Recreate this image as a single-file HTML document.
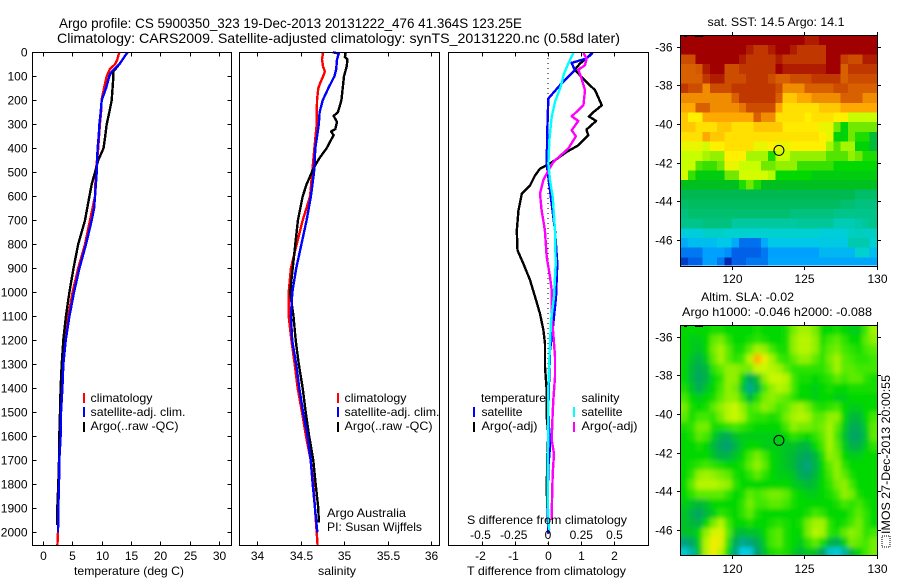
<!DOCTYPE html>
<html>
<head>
<meta charset="utf-8">
<title>Argo profile</title>
<style>
html,body{margin:0;padding:0;background:#fff;width:900px;height:580px;overflow:hidden}
svg{display:block}
text{font-family:"Liberation Sans",sans-serif;font-size:12px;fill:#000}
.t{font-size:13.6px}
</style>
</head>
<body>
<svg id="fig" xmlns="http://www.w3.org/2000/svg" width="900" height="580" viewBox="0 0 900 580">
<rect x="0" y="0" width="900" height="580" fill="#fff"/>
<text class="t" x="59" y="28" textLength="463" lengthAdjust="spacingAndGlyphs">Argo profile: CS 5900350_323 19-Dec-2013 20131222_476 41.364S 123.25E</text>
<text class="t" x="57" y="43" textLength="563" lengthAdjust="spacingAndGlyphs">Climatology: CARS2009. Satellite-adjusted climatology: synTS_20131220.nc (0.58d later)</text>

<g id="layer-maps"></g>
<g id="layer-lines"></g>
<g id="layer-axes"></g>

<text x="74" y="575" textLength="110" lengthAdjust="spacingAndGlyphs">temperature (deg C)</text>
<text x="318" y="575" textLength="38" lengthAdjust="spacingAndGlyphs">salinity</text>
<text x="467" y="575" textLength="159" lengthAdjust="spacingAndGlyphs">T difference from climatology</text>
<text x="467" y="524" textLength="160" lengthAdjust="spacingAndGlyphs">S difference from climatology</text>

<g>
<rect x="83" y="393" width="2" height="10" fill="#f00"/>
<rect x="83" y="407" width="2" height="10" fill="#00f"/>
<rect x="83" y="422" width="2" height="10" fill="#000"/>
<text x="90.5" y="402" textLength="62" lengthAdjust="spacingAndGlyphs">climatology</text>
<text x="90.5" y="416" textLength="95" lengthAdjust="spacingAndGlyphs">satellite-adj. clim.</text>
<text x="90.5" y="430" textLength="88" lengthAdjust="spacingAndGlyphs">Argo(..raw -QC)</text>
</g>
<g>
<rect x="337" y="393" width="2" height="10" fill="#f00"/>
<rect x="337" y="407" width="2" height="10" fill="#00f"/>
<rect x="337" y="422" width="2" height="10" fill="#000"/>
<text x="344.5" y="402" textLength="62" lengthAdjust="spacingAndGlyphs">climatology</text>
<text x="344.5" y="416" textLength="95" lengthAdjust="spacingAndGlyphs">satellite-adj. clim.</text>
<text x="344.5" y="430" textLength="88" lengthAdjust="spacingAndGlyphs">Argo(..raw -QC)</text>
</g>
<text x="327" y="517" textLength="79" lengthAdjust="spacingAndGlyphs">Argo Australia</text>
<text x="327" y="531" textLength="95" lengthAdjust="spacingAndGlyphs">PI: Susan Wijffels</text>
<g>
<text x="481" y="402" textLength="65" lengthAdjust="spacingAndGlyphs">temperature</text>
<text x="581.5" y="402" textLength="38" lengthAdjust="spacingAndGlyphs">salinity</text>
<rect x="473" y="407" width="2" height="10" fill="#00f"/>
<rect x="473" y="422" width="2" height="10" fill="#000"/>
<rect x="573" y="407" width="2" height="10" fill="#0ff"/>
<rect x="573" y="422" width="2" height="10" fill="#f0f"/>
<text x="481.5" y="416" textLength="41" lengthAdjust="spacingAndGlyphs">satellite</text>
<text x="481.5" y="430" textLength="56" lengthAdjust="spacingAndGlyphs">Argo(-adj)</text>
<text x="581.5" y="416" textLength="41" lengthAdjust="spacingAndGlyphs">satellite</text>
<text x="581.5" y="430" textLength="56" lengthAdjust="spacingAndGlyphs">Argo(-adj)</text>
</g>

<text x="707.5" y="26" textLength="137" lengthAdjust="spacingAndGlyphs">sat. SST: 14.5  Argo: 14.1</text>
<text x="701" y="301" textLength="93" lengthAdjust="spacingAndGlyphs">Altim. SLA: -0.02</text>
<text x="682" y="316" textLength="190" lengthAdjust="spacingAndGlyphs">Argo h1000: -0.046  h2000: -0.088</text>

<rect x="882" y="536" width="8" height="11" fill="none" stroke="#000" stroke-width="1" stroke-dasharray="1 1"/>
<text transform="translate(890,534) rotate(-90)" x="0" y="0" textLength="159" lengthAdjust="spacingAndGlyphs">IMOS 27-Dec-2013 20:00:55</text>
</svg>

<script>
// ---- profile data ----
const tempClimDepth = [0,30,50,70,100,150,200,230,300,400,500,600,700,800,900,1000,1100,1200,1300,1400,1500,1600,1700,1800,1900,2000,2055];
const tempClim = [13,12.66,12.27,11.4,10.85,10.4,9.97,9.97,9.7,9.4,9.0,8.86,8.0,7.15,6.0,5.05,4.3,3.7,3.35,3.07,2.9,2.8,2.75,2.68,2.6,2.56,2.45];
const tempSatDepth = [0,50,80,100,150,200,250,300,350,400,500,600,650,700,800,900,1000,1100,1200,1300,1400,1500,1600,1700,1800,1900,2000];
const tempSat = [14.4,13.0,11.7,11.3,10.73,10.0,9.83,9.6,9.49,9.3,9.15,8.86,8.7,8.3,7.33,6.2,5.28,4.5,3.87,3.46,3.3,3.07,3.0,2.78,2.72,2.6,2.56];
const tempArgoDepth = [0,50,80,100,200,250,300,350,400,450,500,550,600,700,800,900,1000,1100,1200,1300,1400,1500,1600,1700,1800,1900,1970];
const tempArgo = [14.4,13.0,12.0,12.0,11.7,11.3,10.85,10.6,10.3,9.4,8.86,8.3,7.9,7.15,6.0,5.2,4.5,3.9,3.46,3.18,3.0,2.9,2.78,2.73,2.6,2.44,2.44];

const salClimDepth = [0,30,60,80,100,130,150,200,300,400,500,600,700,800,900,1000,1100,1200,1300,1400,1500,1600,1700,1800,1900,2000,2055];
const salClim = [34.76,34.747,34.76,34.78,34.76,34.724,34.705,34.69,34.686,34.66,34.635,34.61,34.525,34.456,34.39,34.364,34.364,34.395,34.433,34.468,34.517,34.563,34.617,34.647,34.667,34.686,34.697];
const salSatDepth = [0,5,30,70,100,150,200,250,300,400,500,600,700,800,900,1000,1100,1200,1300,1400,1500,1600,1700,1800,1900,2000];
const salSat = [34.87,34.94,34.92,34.91,34.89,34.82,34.755,34.72,34.71,34.67,34.655,34.62,34.57,34.51,34.45,34.406,34.39,34.405,34.45,34.486,34.53,34.58,34.617,34.64,34.667,34.693];
const salArgoDepth = [0,20,30,60,100,150,200,250,265,290,320,330,345,400,440,470,500,550,600,700,800,900,1000,1100,1200,1300,1400,1500,1600,1700,1800,1900,1960];
const salArgo = [35.02,35.01,35.04,35.03,35.0,34.985,34.97,34.93,34.88,34.92,34.9,34.85,34.88,34.8,34.72,34.67,34.63,34.57,34.525,34.47,34.44,34.41,34.38,34.42,34.445,34.48,34.525,34.56,34.6,34.647,34.675,34.705,34.71];

const dTArgoDepth = [3,26,47,72,96,124,158,221,249,267,286,322,346,388,415,450,471,485,513,554,589,658,742,825,881,950,1019,1089,1158,1214,1311,1408,1519,1589,1686,1825,1922,2005];
const dTArgo = [1.32,1.16,.96,.81,.96,1.16,1.42,1.62,1.37,1.23,1.45,1.16,1.21,.91,.56,.21,-.04,-.24,-.39,-.54,-.79,-.89,-.94,-.92,-.74,-.54,-.39,-.24,-.14,-.09,-.09,-.04,-.04,.01,-.02,-.04,-.01,.01];
const dTSatDepth = [3,26,44,75,137,193,325,464,519,631,742,881,1019,1102,1158,1241,1380,1491,1589,1644,1727,1866,2005];
const dTSat = [1.35,1.16,.71,.81,.36,.01,-.02,-.04,.01,.11,.21,.28,.24,.18,.14,.06,.03,.01,.04,.06,.01,-.01,.01];
const dSSatDepth = [3,47,89,144,207,269,367,464,533,603,742,881,1019,1116,1214,1311,1394,1589,1727,1866,1991];
const dSSat = [.19,.153,.12,.095,.053,.028,.01,.003,.015,.035,.053,.058,.045,.023,.015,.008,.003,.003,-.003,-.003,.008];
const dSArgoDepth = [3,26,54,72,110,158,221,267,286,325,350,401,457,492,533,589,658,742,853,936,992,1116,1172,1269,1352,1450,1533,1616,1672,1755,1866,1949];
const dSArgo = [.266,.29,.278,.228,.253,.278,.266,.178,.228,.178,.21,.153,.04,.003,-.035,-.06,-.048,-.023,-.01,.015,.028,.03,.04,.053,.053,.04,.033,.028,.045,.035,.03,.028];

// ---- tick labels ----
const depthTicks = [0,100,200,300,400,500,600,700,800,900,1000,1100,1200,1300,1400,1500,1600,1700,1800,1900,2000];
const tempTicks = [0,5,10,15,20,25,30];
const salTicks = [34,34.5,35,35.5,36];
const dTTicks = [-2,-1,0,1,2];
const dSTicks = [-0.5,-0.25,0,0.25,0.5];
const latTicks = [-36,-38,-40,-42,-44,-46];
const lonTicks = [120,125,130];

// ---- map data: 0.5 degree cells, rows north to south ----
const argoLon = 123.25;
const argoLat = -41.364;
const sstGrid = [
[20,20,20,20,20,20,20,20,20,20,20,20,20,20,20,20,20,19.5,19.5,20,20,20,20,20,20,20,20],
[20,20,20,20,20,20,20,20,20,19.5,19,19,19.5,20,20,19.5,19,19,19,19,20,20,20,20,20,20,20],
[18.5,18.5,20,20,20,20,20,20,19.5,19,19,19,19,19.5,19,19,19,19,19,19,20,20,18.8,18.5,18.5,19.5,19.5],
[18,18,18.2,19.5,20,20,18.5,18.5,19,19,19,19,19,20,19.5,19.5,19.5,19.5,19.5,19.5,20,20,18,19,19,19,19],
[18,18,18,19,19.5,19.5,18.5,18.5,18.5,19,19,19,18.5,18,18,18.5,18.5,18.5,19,19,19,19,18,18.5,18.5,18.5,18.5],
[19,18.5,18.5,17,18.5,18.5,18.5,19,19,19,19,19,19,18.5,17,17,17,18,18,18,18,18.5,18.5,18,18,18,18],
[17,17,17,17,17,17,17,18,19,19,19,19,19,18,16,16,16.5,16.5,17,17,17,17,18,18,18,17,17],
[16.5,16.5,18,18,17,17,17,17,17.5,18.5,18.5,18.5,18.5,16.5,15.5,15.5,15.5,15.5,15.5,16,16,16,16.5,16.5,16.5,16.5,16.5],
[16,15,15,16.5,16.5,16.5,16.5,16.5,16.5,16.5,18,17,17,15.5,15.5,15.5,15.5,15,15.5,15.5,15.5,15,15,14.5,14.5,14.5,14.5],
[16,16,15.5,15.5,15.5,16,16,15.5,15.5,15.5,16,16,16,16,15.2,15.2,15.2,15.2,15.2,14.8,14.8,14,13.5,14,14,14,14],
[15.5,15.5,15.5,16.5,16,16,15.5,15.5,15.5,15.5,15.5,15.5,15.5,15.5,15.4,15.4,15.4,15.4,15.4,15,14.8,13.5,13.5,14,13.7,13.7,13],
[14.8,14.8,14.8,14.6,15,15,15.5,15.5,15.5,15.5,14.8,14.8,15,14.8,14.8,15,15,15,15,15,14.3,13.9,14.3,14.3,13.5,13.5,13],
[14.5,14.5,14.5,14.3,14.2,14.2,15,15,15,14.3,14.3,14.3,13.7,14.5,14.5,14.2,14.2,14.2,14.2,14.2,13.9,13.9,13.9,14.2,14,13.7,13.7],
[14.5,14.5,13.9,13.8,13.8,14,14.8,14.8,14.5,14.5,14.5,14,14,14.2,14.2,14.2,13.8,13.8,13.8,13.8,13.8,13.6,13.6,13.6,13.6,13.6,13.6],
[14.6,13.8,13.4,13.4,13.4,13.4,14,14,14.6,14.6,14.6,14.6,14.4,13.6,13.6,13.6,13.6,13.6,13.4,13.4,13.4,13.4,13.4,13.4,13.4,13.4,13.4],
[13.2,13.2,13.2,13.2,13.2,13.2,13.2,13.2,13.7,14,13.7,13.2,13.2,13.2,13.2,13.2,13.2,13.2,13.2,13.2,13.2,13.2,13.2,13.2,13.2,13.2,13.2],
[12.8,12.8,12.8,12.8,12.8,12.8,12.8,12.8,12.8,12.8,12.8,12.8,12.8,12.8,12.8,12.8,12.8,12.8,12.8,12.8,12.8,12.8,12.8,12.8,12.5,12.5,12.5],
[12.5,12.6,12.6,12.6,12.6,12.6,12.6,12.6,12.6,12.6,12.6,12.6,12.6,12.6,12.6,12.6,12.6,12.6,12.6,12.6,12.6,12.6,12.4,12.4,12.2,12.2,12.2],
[12.2,12.4,12.4,12.4,12.4,12.4,12.4,12.4,12.4,12.4,12.4,12.4,12.4,12.4,12.4,12.2,12.2,12.2,12.2,12.2,12.2,12,12,12,12,12,12],
[12,12,12,12.2,12.2,12.2,12.2,11.7,11.7,11.7,11.7,11.7,11.7,11.7,11.7,11.7,11.8,11.8,11.8,11.8,11.8,11.4,11.4,11.4,11.6,11.8,12],
[10.8,10.8,10.8,11.1,11.1,11.1,11,11,11,11,11,11,11,11,11,11,11,11,11,10.8,10.8,10.8,10.9,11.2,11.3,11.2,11.2],
[10,10.3,10.3,10.3,10.3,10.5,10.5,10,9.2,9.2,9.2,10,10.5,10.5,10.5,10.5,10.5,10.5,10.5,10.6,10.6,10.6,10.6,11.5,11.5,11.5,11],
[9.3,9.3,9.3,9.8,9.8,9.8,9.6,9,9,9,9,9.3,9.8,9.8,9.8,9.8,9.8,9.8,9.8,10.2,10.2,10.2,10.2,10.2,11,11,10.3],
[8.7,9,9,9.8,9.8,9.3,8.5,9,9,9.3,9.3,9.3,9.9,9.9,9.9,9.9,9.9,9.9,9.9,9.9,9.9,9.9,9.9,9.9,9.9,9.9,9.9]
];
const slaGrid = [
[-2,-2,-2,-2,0,0,-2,-2,-2,-2,0,-2,-2,-2,0,8,12,12,8,-2,-2,0,-2,-4,-4,4,12],
[-2,-4,-4,-2,6,8,2,-2,-2,0,2,0,-2,-2,0,10,14,14,10,0,4,6,2,-2,-2,6,10],
[-2,-4,-6,-2,8,12,6,0,0,6,12,10,4,0,0,10,14,14,10,2,6,8,4,2,0,4,6],
[-2,-6,-10,-4,6,12,6,2,4,14,34,22,12,4,2,6,10,10,6,2,8,12,6,4,2,2,4],
[-2,-8,-12,-8,2,6,10,10,8,8,16,16,14,12,6,2,2,2,2,2,6,12,6,6,4,4,4],
[-2,-8,-14,-10,-2,2,10,10,-2,-14,-6,10,16,16,14,4,0,0,-2,0,2,6,4,6,6,2,0],
[0,-6,-12,-6,-2,4,10,8,-6,-20,-10,4,10,14,12,4,-2,-2,-4,-2,0,-2,-2,0,0,0,0],
[4,-2,-4,-2,0,6,10,10,2,-8,0,8,10,8,6,2,-2,-2,-4,-2,-2,-4,-4,-2,-2,-2,-2],
[8,0,-2,0,6,10,14,16,10,4,6,10,8,4,6,10,12,8,2,0,2,4,-2,-4,-4,-2,-2],
[6,0,4,4,2,8,14,16,12,4,2,2,0,2,8,12,14,12,6,6,10,10,-2,-8,-8,-2,4],
[0,2,8,8,0,0,2,4,2,0,-2,-2,-2,-2,4,10,8,8,6,8,12,6,-4,-12,-12,-4,6],
[-2,0,6,4,-4,-10,-12,-6,-4,-4,-4,-4,-4,-4,-2,2,0,-2,2,6,12,4,-6,-14,-14,-6,6],
[-2,-2,0,-2,-8,-14,-16,-10,-4,-2,-2,-4,-4,-4,-6,-6,-8,-8,-2,4,12,6,-4,-10,-10,-4,2],
[-2,-2,-2,-2,-6,-10,-10,-6,-2,4,8,4,-2,-4,-6,-8,-12,-14,-8,0,10,8,-2,-4,-4,-2,-2],
[-2,0,2,4,2,0,-2,-2,0,6,10,6,-2,-4,-6,-8,-14,-18,-10,-2,6,10,2,-2,-2,-2,-2],
[-2,2,10,12,10,8,6,0,-2,2,6,2,-2,-4,-4,-6,-12,-14,-8,-2,4,10,6,0,-2,-2,-2],
[-2,6,14,14,14,12,10,2,-2,-2,-2,-2,-2,-2,-2,-4,-6,-8,-6,-2,2,8,10,4,-2,-2,-2],
[-2,2,6,6,6,6,2,-2,0,6,4,6,8,8,6,0,-2,-4,-4,-2,0,4,10,8,0,-2,-2],
[-4,-6,-8,-6,-2,-2,-2,-2,2,8,4,4,6,6,4,0,-2,-2,-2,-2,-2,0,4,2,4,0,-2],
[-6,-10,-14,-8,-4,2,0,-2,2,6,0,-2,-2,-2,-2,-2,-2,0,4,2,-2,-2,-2,2,6,2,-2],
[-6,-8,-10,-2,8,14,4,-2,-2,0,-2,-2,0,2,0,-2,0,8,12,12,2,-2,0,4,8,2,-2],
[-6,-6,-2,10,18,20,6,-6,-8,-6,-6,-2,4,6,0,-2,-2,8,14,12,2,0,6,10,8,2,4],
[-18,-14,-4,14,24,20,2,-12,-20,-18,-12,-4,4,6,0,-2,-4,2,6,0,-8,-12,-4,8,6,4,8],
[-32,-24,-6,14,24,14,-2,-18,-36,-34,-16,-6,0,2,0,-4,-8,-4,-6,-14,-30,-34,-24,-8,-2,4,8]
];
const sstStopValues = [8.5,9,9.8,10.5,11,11.7,12.4,12.8,13.2,13.6,14,14.5,15,15.5,16,16.5,17,18,19,20];
const sstStopColors = ["#0028b0","#0060e8","#00a0ff","#00c8e8","#00d0d0","#00c8a0","#00c070","#00b850","#00c020","#00d800","#70e800","#c8ff00","#fff000","#ffe000","#ffc800","#ffa800","#f08c00","#d86000","#c03800","#a00000"];
const slaStopValues = [-36,-25,-16,-8,-2,4,10,16,24,34];
const slaStopColors = ["#00d0e8","#00b8a8","#00a070","#00b838","#00d800","#40e800","#90f000","#c8f800","#f4ec00","#ffb000"];

// ---- axis functions ----
const yDepth = d => 52.3 + 0.24 * d;
const xTemp = v => 43 + 5.87 * v;
const xSal = v => 257 + 87 * (v - 34);
const xDT = v => 548 + 33.2 * v;
const xDS = v => 548 + 133 * v;
const xLon = v => 731.7 + 14.53 * (v - 120);
const ySst = v => 46.7 + 19.33 * (-36 - v);
const ySla = v => 336.7 + 19.33 * (-36 - v);

const NS = "http://www.w3.org/2000/svg";
const lines = document.getElementById("layer-lines");
const axes = document.getElementById("layer-axes");
const maps = document.getElementById("layer-maps");

function mk(parent, tag, attrs) {
  const el = document.createElementNS(NS, tag);
  for (const k in attrs) el.setAttribute(k, attrs[k]);
  parent.appendChild(el);
  return el;
}
function profile(name, depths, vals, xf, color, width) {
  const pts = vals.map((v, i) => xf(v).toFixed(1) + "," + yDepth(depths[i]).toFixed(1)).join(" ");
  const el = mk(lines, "polyline", {points: pts, fill: "none", stroke: color, "stroke-width": width, "stroke-linejoin": "round", "shape-rendering": "crispEdges"});
  
  
}
function frame(name, x0, y0, x1, y1) {
  const el = mk(axes, "rect", {x: x0, y: y0, width: x1 - x0, height: y1 - y0, fill: "none", stroke: "#000", "stroke-width": 1, "shape-rendering": "crispEdges"});
  
  
}
function tick(x1, y1, x2, y2) {
  const el = mk(axes, "line", {x1: x1, y1: y1, x2: x2, y2: y2, stroke: "#000", "stroke-width": 1, "shape-rendering": "crispEdges"});
  
  
}
function label(txt, x, y, anchor) {
  const el = mk(axes, "text", {x: x, y: y, "text-anchor": anchor});
  el.textContent = txt;
  
  
}

// profile lines
profile("climatology-temperature-line", tempClimDepth, tempClim, xTemp, "#f00", 2.4);
profile("argo-temperature-line", tempArgoDepth, tempArgo, xTemp, "#000", 2.4);
profile("satellite-temperature-line", tempSatDepth, tempSat, xTemp, "#00f", 2.4);
profile("climatology-salinity-line", salClimDepth, salClim, xSal, "#f00", 2.4);
profile("argo-salinity-line", salArgoDepth, salArgo, xSal, "#000", 2.4);
profile("satellite-salinity-line", salSatDepth, salSat, xSal, "#00f", 2.4);

const zeroLine = mk(lines, "line", {x1: xDT(0), y1: 53, x2: xDT(0), y2: 545, stroke: "#000", "stroke-width": 1, "stroke-dasharray": "1 4"});



profile("argo-t-difference-line", dTArgoDepth, dTArgo, xDT, "#000", 2.4);
profile("satellite-t-difference-line", dTSatDepth, dTSat, xDT, "#00f", 2.4);
profile("argo-s-difference-line", dSArgoDepth, dSArgo, xDS, "#f0f", 2.4);
profile("satellite-s-difference-line", dSSatDepth, dSSat, xDS, "#0ff", 2.4);

// panel frames, ticks and labels
frame("temperature-panel-frame", 32.5, 52.5, 231.5, 545.5);
frame("salinity-panel-frame", 239.5, 52.5, 439.5, 545.5);
frame("difference-panel-frame", 448.5, 52.5, 648.5, 545.5);

depthTicks.forEach(d => {
  const y = Math.round(yDepth(d)) + 0.5;
  tick(32.5, y, 36.5, y);
  tick(227.5, y, 231.5, y);
  label(String(d), 27.5, y + 4, "end");
});
tempTicks.forEach(v => {
  const x = Math.round(xTemp(v)) + 0.5;
  tick(x, 52.5, x, 56.5);
  tick(x, 541.5, x, 545.5);
  label(String(v), x, 560, "middle");
});
salTicks.forEach(v => {
  const x = Math.round(xSal(v)) + 0.5;
  tick(x, 52.5, x, 56.5);
  tick(x, 541.5, x, 545.5);
  label(String(v), x, 560, "middle");
});
dTTicks.forEach(v => {
  const x = Math.round(xDT(v)) + 0.5;
  tick(x, 52.5, x, 56.5);
  tick(x, 541.5, x, 545.5);
  label(String(v), x - (v < 0 ? 2 : 0), 560, "middle");
});
dSTicks.forEach(v => {
  label(String(v), xDS(v) - (v < 0 ? 1 : 0), 539, "middle");
});

// heatmaps
function lerpColor(v, sv, sc) {
  if (v <= sv[0]) return sc[0];
  for (let i = 1; i < sv.length; i++) {
    if (v <= sv[i]) {
      const t = (v - sv[i - 1]) / (sv[i] - sv[i - 1]);
      const a = sc[i - 1], b = sc[i];
      const ch = s => [parseInt(s.slice(1, 3), 16), parseInt(s.slice(3, 5), 16), parseInt(s.slice(5, 7), 16)];
      const ca = ch(a), cb = ch(b);
      return "rgb(" + ca.map((c, k) => Math.round(c + (cb[k] - c) * t)).join(",") + ")";
    }
  }
  return sc[sc.length - 1];
}
const defs = mk(document.getElementById("fig"), "defs", {});
const blur = mk(defs, "filter", {id: "sla-smooth", x: "-5%", y: "-5%", width: "110%", height: "110%"});
mk(blur, "feGaussianBlur", {stdDeviation: "2.5"});
const clipA = mk(defs, "clipPath", {id: "clip-sst"});
mk(clipA, "rect", {x: 681, y: 35.5, width: 196, height: 230});
const clipB = mk(defs, "clipPath", {id: "clip-sla"});
mk(clipB, "rect", {x: 681, y: 325.5, width: 196, height: 230});

function heatmap(name, grid, yf, sv, sc, clipId, smooth) {
  const outer = mk(maps, "g", {"clip-path": "url(#" + clipId + ")"});
  
  
  const g = mk(outer, "g", smooth ? {filter: "url(#sla-smooth)"} : {});
  grid.forEach((row, r) => {
    const latTop = -35.4 - 0.5 * r;
    row.forEach((v, c) => {
      const lon = 116.5 + 0.5 * c;
      const x0 = xLon(lon), x1 = xLon(lon + 0.5);
      const y0 = yf(latTop), y1 = yf(latTop - 0.5);
      const padX = smooth && c === 0 ? 10 : 0;
      const padY = smooth && r === 0 ? 10 : 0;
      const padE = smooth && c === row.length - 1 ? 10 : 0;
      const padS = smooth && r === grid.length - 1 ? 10 : 0;
      const cell = mk(g, "rect", {x: (x0 - padX).toFixed(2), y: (y0 - padY).toFixed(2), width: (x1 - x0 + padX + padE + 0.4).toFixed(2), height: (y1 - y0 + padY + padS + 0.4).toFixed(2), fill: lerpColor(v, sv, sc), "shape-rendering": "crispEdges"});
      
      
    });
  });
}
heatmap("sst-heatmap", sstGrid, ySst, sstStopValues, sstStopColors, "clip-sst", false);
heatmap("sla-heatmap", slaGrid, ySla, slaStopValues, slaStopColors, "clip-sla", true);

function mapAxes(name, top, bottom, yf, lonLabelY) {
  frame(name, 680.5, top, 877.5, bottom);
  latTicks.forEach(lat => {
    const y = Math.round(yf(lat)) + 0.5;
    tick(677, y, 680.5, y);
    tick(877.5, y, 881, y);
    label(String(lat), 672.5, y + 4, "end");
  });
  lonTicks.forEach(lon => {
    const x = Math.round(xLon(lon)) + 0.5;
    tick(x, top - 3.5, x, top);
    tick(x, bottom, x, bottom + 3.5);
    label(String(lon), x, lonLabelY, "middle");
  });
  const c1 = mk(axes, "rect", {x: 684, y: top, width: 3, height: 1.5, fill: "#000"});
  
  
  const c2 = mk(axes, "rect", {x: 695, y: top, width: 8, height: 1.5, fill: "#000"});
  
  
  const circ = mk(axes, "circle", {cx: xLon(argoLon), cy: yf(argoLat), r: 5, fill: "none", stroke: "#000", "stroke-width": 1});
  
  
}
mapAxes("sst-map-frame", 35.5, 266.5, ySst, 283);
mapAxes("sla-map-frame", 325.5, 555.5, ySla, 573);
</script>
</body>
</html>
